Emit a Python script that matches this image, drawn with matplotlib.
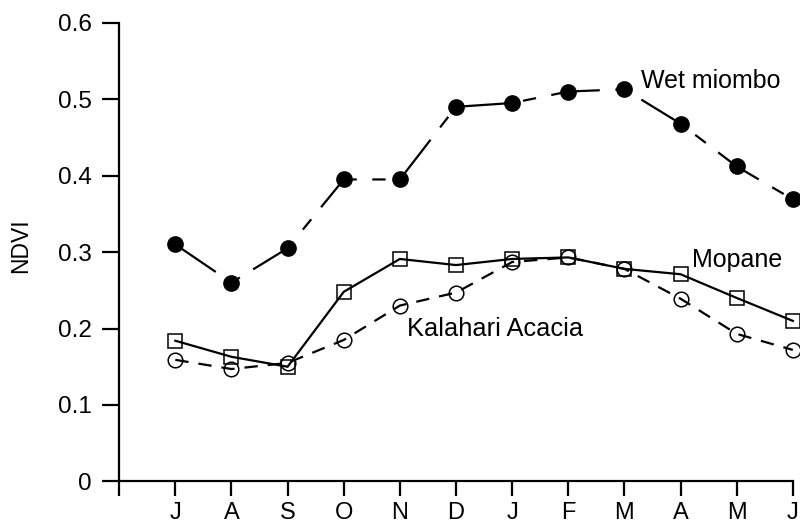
import matplotlib.pyplot as plt

plt.rcParams['font.family'] = ['Liberation Sans', 'DejaVu Sans']

months = ['J', 'A', 'S', 'O', 'N', 'D', 'J', 'F', 'M', 'A', 'M', 'J']
month_pos = list(range(1, 13))

wet_miombo = [0.310, 0.260, 0.305, 0.395, 0.395, 0.490, 0.495, 0.510, 0.513, 0.468, 0.412, 0.369]
mopane = [0.184, 0.163, 0.150, 0.248, 0.291, 0.283, 0.291, 0.293, 0.278, 0.271, 0.240, 0.210]
kalahari = [0.159, 0.147, 0.155, 0.185, 0.230, 0.247, 0.287, 0.293, 0.278, 0.239, 0.193, 0.172]

fig = plt.figure(figsize=(8, 5.29), dpi=100)
ax = fig.add_axes([0.149, 0.09, 0.842, 0.867])

# long dash / short dash pattern for the wet miombo line
ax.plot(month_pos, wet_miombo, color='black', lw=1.6, dashes=(22, 7, 6, 7),
        marker='o', markersize=11, markerfacecolor='black', markeredgecolor='black')
ax.plot(month_pos, mopane, color='black', lw=1.6, linestyle='-',
        marker='s', markersize=10.5, markerfacecolor='none', markeredgecolor='black',
        markeredgewidth=1.1)
ax.plot(month_pos, kalahari, color='black', lw=1.6, dashes=(6, 4.5),
        marker='o', markersize=10.5, markerfacecolor='none', markeredgecolor='black',
        markeredgewidth=1.1)

ax.text(9.29, 0.515, 'Wet miombo', fontsize=18, va='baseline')
ax.text(10.21, 0.280, 'Mopane', fontsize=18, va='baseline')
ax.text(5.13, 0.190, 'Kalahari Acacia', fontsize=18.3, va='baseline')

ax.set_xlim(0, 12)
ax.set_ylim(0, 0.6)
ax.set_xticks([0] + month_pos)
ax.set_xticklabels([''] + months)
ax.set_yticks([0, 0.1, 0.2, 0.3, 0.4, 0.5, 0.6])
ax.set_yticklabels(['0', '0.1', '0.2', '0.3', '0.4', '0.5', '0.6'])
ax.set_ylabel('NDVI', fontsize=16.5)
ax.yaxis.set_label_coords(-0.13, 0.513)

ax.spines['top'].set_visible(False)
ax.spines['right'].set_visible(False)
ax.spines['left'].set_linewidth(1.6)
ax.spines['bottom'].set_linewidth(1.6)
ax.tick_params(axis='x', direction='out', length=11, width=1.6, labelsize=17, pad=4)
ax.tick_params(axis='y', direction='out', length=12, width=1.6, labelsize=17.5, pad=8)

for ln in ax.lines:
    ln.set_clip_on(False)

fig.savefig('out.png', dpi=100)
